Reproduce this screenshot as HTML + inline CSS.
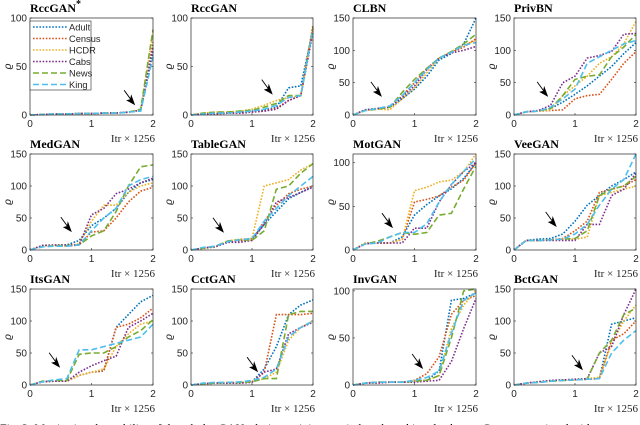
<!DOCTYPE html>
<html><head><meta charset="utf-8"><style>
html,body{margin:0;padding:0;background:#fff;}
svg{display:block;}
.tl{font-family:"Liberation Sans",sans-serif;font-size:10px;fill:#262626;}
.tt{font-family:"Liberation Serif",serif;font-size:12px;font-weight:bold;fill:#000;}
.xl{font-family:"Liberation Serif",serif;font-size:11px;fill:#262626;}
</style></head><body>
<svg id="fig" width="640" height="425" viewBox="0 0 640 425" xmlns="http://www.w3.org/2000/svg"></svg>
<script>
const xs=[0,0.2,0.4,0.6,0.8,1.0,1.2,1.4,1.6,1.8,2.0];
const seriesNames=["Adult","Census","HCDR","Cabs","News","King"];
const seriesColors=["#0072BD","#D95319","#EDB120","#7E2F8E","#77AC30","#4DBEEE"];
const titles=["RccGAN*","RccGAN","CLBN","PrivBN","MedGAN","TableGAN","MotGAN","VeeGAN","ItsGAN","CctGAN","InvGAN","BctGAN"];
const yMaxes=[100,100,150,150,150,150,110,150,150,150,102,150];
const arrowX=[1.71,1.34,0.47,0.56,0.68,0.54,0.65,0.70,0.49,1.10,1.14,1.13];
const arrowY=[10,21,28,28,28,27,25,36,27,20,17,23];
const p1=[[0,0.5,1,1,1.5,1.5,2,2,3,5,65],[0,0.5,1,1,1.5,1.5,2,2,3,5,75],[0,0.5,1,1,1.5,1.5,2,2,3,5,85],[0,0.5,1,1,1.5,1.5,2,2,3,5,70],[0,0.5,1,1,1.5,1.5,2,2,3,6,88],[0,0.5,1,1,1.5,1.5,2,2,3,4,60]];
const p2=[[0,1,2,2,3,4,5,8,28,30,88],[0,1,1,2,2,3,4,7,15,20,93],[0,2,3,3,4,6,10,15,18,20,90],[0,1,1,2,2,3,4,6,15,20,85],[0,2,3,3,4,5,8,12,20,20,90],[0,1,2,2,3,4,6,10,18,20,88]];
const p3=[[0,8,10,12,25,40,60,85,95,110,152],[0,8,10,12,30,50,72,88,97,105,118],[0,7,9,8,25,42,65,88,98,108,115],[0,8,10,12,28,45,70,88,96,100,106],[0,7,9,12,35,55,72,88,98,110,125],[0,7,10,14,30,50,70,88,97,108,112]];
const p4=[[0,5,6,10,20,32,45,60,75,95,112],[0,5,6,7,8,25,30,32,55,80,98],[0,5,6,8,30,45,60,80,90,110,145],[0,5,7,15,50,60,88,92,98,125,126],[0,5,6,10,30,55,60,62,90,105,125],[0,5,6,12,25,40,80,90,100,110,115]];
const p5=[[0,7,7,8,15,38,50,65,90,105,110],[0,7,7,6,8,28,30,50,75,92,98],[0,7,7,6,10,45,70,70,90,100,105],[0,7,8,8,8,55,65,88,95,105,112],[0,5,7,7,8,22,30,60,100,130,133],[0,5,6,6,8,30,50,65,100,110,115]];
const p6=[[0,3,5,12,15,18,40,60,80,90,100],[0,3,5,13,15,15,45,70,88,95,100],[0,2,5,14,17,18,100,105,110,125,135],[0,3,5,12,12,15,40,75,82,90,98],[0,3,6,14,16,15,30,95,100,120,135],[0,4,6,13,16,18,45,65,85,100,115]];
const p7=[[0,8,8,8,15,40,52,62,70,82,100],[0,8,8,8,12,55,58,62,72,80,100],[0,8,8,8,12,68,72,78,80,90,110],[0,7,8,8,8,25,25,55,75,90,100],[0,7,10,15,20,18,20,40,42,70,96],[0,7,8,15,20,20,30,55,75,90,105]];
const p8=[[0,15,17,18,25,45,70,85,100,110,122],[0,15,15,16,18,30,45,90,95,100,110],[0,15,15,16,17,17,20,85,90,95,100],[0,15,15,15,15,15,40,40,85,95,120],[0,15,15,16,17,18,30,85,95,100,115],[0,15,15,16,17,25,40,70,95,110,150]];
const p9=[[0,5,6,6,15,20,22,90,110,130,140],[0,5,6,6,15,20,22,90,95,105,120],[0,5,6,6,15,20,25,60,80,95,100],[0,5,6,6,20,30,38,45,90,100,112],[0,6,7,7,48,50,50,60,75,85,102],[0,5,8,10,55,55,60,65,70,75,95]];
const p10=[[0,2,3,3,3,5,25,60,110,125,133],[0,2,3,3,3,5,20,110,110,110,112],[0,2,3,4,4,6,10,20,70,90,100],[0,2,3,3,3,4,20,25,80,90,98],[0,2,3,4,4,5,10,10,110,115,115],[0,3,4,4,5,7,12,25,75,90,100]];
const p11=[[0,2,3,3,3,4,5,15,90,92,98],[0,2,3,3,3,5,12,30,75,90,95],[0,2,2,3,3,4,5,10,60,85,100],[0,2,2,3,3,3,4,5,25,60,92],[0,2,3,3,3,4,5,10,50,100,102],[0,2,3,3,3,5,8,15,55,90,98]];
const p12=[[0,3,5,7,8,8,9,10,95,100,105],[0,3,5,6,8,8,9,10,70,80,100],[0,3,5,6,7,8,10,12,65,100,125],[0,3,5,7,8,9,10,50,60,110,152],[0,3,4,6,7,8,9,50,70,110,120],[0,3,4,6,7,8,9,10,50,70,85]];
const panels=[p1,p2,p3,p4,p5,p6,p7,p8,p9,p10,p11,p12];
const yTicks=[0,50,100,150];
const xTicks=[0,1,2];

const NS="http://www.w3.org/2000/svg";
const svg=document.getElementById('fig');
function mk(tag,attrs,parent){const e=document.createElementNS(NS,tag);for(const k in attrs)e.setAttribute(k,attrs[k]);(parent||svg).appendChild(e);return e;}
const colL=[30,191,353,514], colR=[153,313,476,636];
const rowT=[18,154,289], rowB=[115,250,385];
panels.forEach((pd,i)=>{
  const c=i%4,r=Math.floor(i/4);
  const L=colL[c],R=colR[c],T=rowT[r],B=rowB[r],ym=yMaxes[i];
  const sx=v=>L+(v/2)*(R-L), sy=v=>B-(v/ym)*(B-T);
  const g=mk('g',{});
  
  
  const t=mk('text',{x:L,y:T-6,class:'tt'},g);t.textContent=titles[i].replace('*','');
  
  
  if(titles[i].includes('*')){const s=mk('tspan',{dy:-5,'font-size':'10'},t);s.textContent='*';}
  yTicks.filter(v=>v<=ym+0.5).forEach(v=>{
    const y=sy(v);
    mk('line',{x1:L,x2:L+2,y1:y,y2:y,stroke:'#262626','stroke-width':0.6},g);
    mk('line',{x1:R,x2:R-2,y1:y,y2:y,stroke:'#262626','stroke-width':0.6},g);
    const tl=mk('text',{x:L-3,y:y+3.5,class:'tl','text-anchor':'end'},g);tl.textContent=v;
    
    
  });
  xTicks.forEach(v=>{
    const x=sx(v);
    mk('line',{x1:x,x2:x,y1:B,y2:B-2,stroke:'#262626','stroke-width':0.6},g);
    const tl=mk('text',{x:x,y:B+12,class:'tl','text-anchor':'middle'},g);tl.textContent=v;
    
    
  });
  const yl=mk('text',{x:0,y:0,class:'tl','font-style':'italic','text-anchor':'middle',transform:`translate(${L-19},${(T+B)/2}) rotate(-90)`},g);yl.textContent='ϱ';
  
  
  const xl=mk('text',{x:R+2,y:B+27,class:'xl','text-anchor':'end'},g);xl.textContent='Itr × 1256';
  
  
  pd.forEach((vals,s)=>{
    const d=vals.map((v,k)=>(k?'L':'M')+sx(xs[k]).toFixed(1)+' '+sy(Math.min(v,ym)).toFixed(1)).join(' ');
    const p=mk('path',{d:d,fill:'none',stroke:seriesColors[s],'stroke-width':1.6,'stroke-dasharray':s<4?'1.6 1.6':'6 3'},g);
    
    
  });
  mk('rect',{x:L,y:T,width:R-L,height:B-T,fill:'none',stroke:'#262626','stroke-width':0.7},g);
  const ax=sx(arrowX[i]),ay=sy(arrowY[i]);
  const ar=mk('g',{},g);
  
  
  mk('line',{x1:ax-11,y1:ay-15,x2:ax-3,y2:ay-4,stroke:'#000','stroke-width':0.9},ar);
  mk('path',{d:`M${ax} ${ay} L${ax-9} ${ay-5} L${ax-5} ${ay-6} L${ax-4} ${ay-11} Z`,fill:'#000'},ar);
});
// legend
const lg=mk('g',{});


mk('rect',{x:30,y:21,width:61,height:69,fill:'#fff',stroke:'#262626','stroke-width':0.6},lg);
seriesNames.forEach((n,s)=>{
  const y=27+s*11.5;
  const ln=mk('line',{x1:33,x2:67,y1:y,y2:y,stroke:seriesColors[s],'stroke-width':1.6,'stroke-dasharray':s<4?'1.6 1.6':'6 3'},lg);
  
  
  const t=mk('text',{x:69,y:y+3.3,class:'tl'},lg);t.textContent=n;
  t.style.fontSize='9.3px';
  
  
});
const cap=mk('text',{x:0,y:432,'font-family':'Liberation Serif, serif','font-size':'12',fill:'#000'});
cap.textContent='Fig. 3: Monitoring the stability of the tabular GANs during training on six benchmarking databases. Curves associated with';


</script>
</body></html>
